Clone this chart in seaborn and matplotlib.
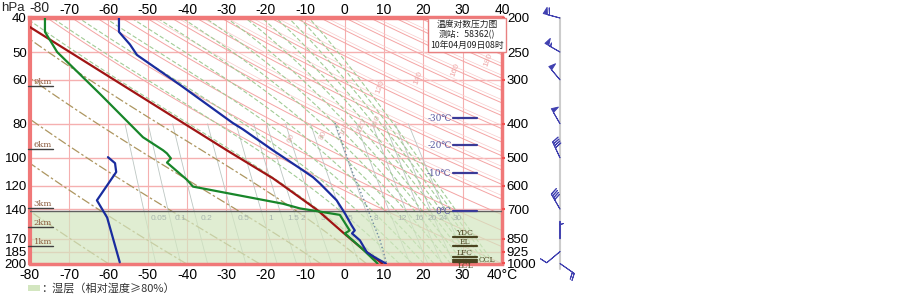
import numpy as np
import matplotlib
matplotlib.use("Agg")
import matplotlib.pyplot as plt
import seaborn as sns
from matplotlib.patches import Rectangle
from matplotlib.ticker import NullLocator

sns.set_theme(style="white")
plt.rcParams['font.family'] = ['Liberation Sans', 'Noto Sans CJK SC', 'DejaVu Sans']
plt.rcParams['axes.unicode_minus'] = False

# sounding (hPa, degC)
temp_p = [1000, 968, 930, 859, 821, 805, 779, 720, 697, 661, 591, 568, 536, 476, 415, 398, 310, 255, 238, 219, 200]
temp_t = [10.5, 8.2, 5.7, 3.9, 1.9, 2.6, 1.8, 0.1, -0.7, -2.0, -6.3, -8.0, -11.3, -18.2, -25.8, -28.4, -41.8, -52.7, -54.5, -57.3, -57.3]
dewp_p = [1000, 906, 821, 805, 727, 697, 676, 604, 578, 516, 502, 486, 476, 437, 330, 250, 219, 200]
dewp_t = [8.4, 4.4, 0.1, 1.3, -1.2, -11.3, -15.6, -38.5, -40.0, -45.1, -44.1, -45.1, -46.1, -51.2, -62.0, -73.0, -76.1, -76.1]
parcel_p = [1000, 906, 816, 706, 591, 572, 476, 212, 200]
parcel_t = [9.6, 4.4, -0.4, -6.8, -16.4, -18.2, -29.9, -80.0, -82.0]
# upper-air leg (40-100 hPa), drawn on the p*5 scale
upper_p = [498, 518, 549, 661, 740, 992]
upper_t = [-60.1, -58.3, -58.0, -62.9, -60.3, -57.1]
# dotted line from the surface
dot_p = [398, 553, 692, 858, 1000]
dot_t = [-2.4, 2.1, 5.7, 9.0, 10.7]

# winds (deg, m/s)
wind_p = [200, 250, 300, 400, 500, 700, 850, 925, 1000]
wind_dir = [285, 300, 320, 330, 335, 330, 360, 230, 125]
wind_spd = [24, 22, 20, 20, 16, 16, 2, 4, 8]

temp_ticks = list(range(-80, 41, 10))
p_levels = [200, 250, 300, 400, 500, 600, 700, 850, 925, 1000]
left_labels = ['40', '50', '60', '80', '100', '120', '140', '170', '185', '200']

km_labels = ['9km', '6km', '3km', '2km', '1km']
km_p = [313, 473, 697, 789, 894]
iso_labels = ['-30℃', '-20℃', '-10℃', '0℃']
iso_p = [386, 461, 553, 710]
lev_labels = ['YDC', 'EL', 'LFC', 'CCL', 'LCL']
lev_p = [838, 894, 957, 975, 990]
wet_top = 712
zero_level = 710

theta_dry = np.arange(40, 231, 10)
theta_olive = [-60, -40, -20, 0, 20]
theta_green = np.arange(30, 171, 10)
mix_ratio = [0.05, 0.1, 0.2, 0.5, 1, 1.5, 2, 3, 5, 8, 12, 16, 20, 24, 30]

pp = np.linspace(1000, 200, 401)


def dry(theta):
    return (theta + 273.15) * (pp / 1000.0) ** 0.286 - 273.15


def esat(t):
    return 6.112 * np.exp(17.67 * t / (t + 243.5))


def rsat(t, p):
    e = esat(t)
    return 0.622 * e / (p - e)


t_grid = np.arange(-70, 50, 0.05)
thse_grid = (t_grid + 273.15) * np.exp(2.5e6 * rsat(t_grid, 1000.0) /
                                       (1004.0 * (t_grid + 273.15))) - 273.15


def moist(thse):
    T = np.interp(thse, thse_grid, t_grid) + 273.15
    out = [T]
    for i in range(1, len(pp)):
        r = rsat(T - 273.15, pp[i - 1])
        dtdp = (287.0 * T + 2.5e6 * r) / (
            pp[i - 1] * (1004.0 + 2.5e6 ** 2 * r * 0.622 / (287.0 * T ** 2)))
        T = T + dtdp * (pp[i] - pp[i - 1])
        out.append(T)
    return np.array(out) - 273.15


def mixing(w, pm):
    e = w * pm / (622.0 + w)
    a = np.log(e / 6.112)
    return 243.5 * a / (17.67 - a)


W, H = 903, 294
x0, x1, ytop, ybot = 29.6, 502, 18, 263.5
fig = plt.figure(figsize=(W / 100, H / 100), dpi=100)
ax = fig.add_axes([x0 / W, 1 - ybot / H, (x1 - x0) / W, (ybot - ytop) / H])
ax.set_yscale('log')
ax.set_xlim(-80, 40)
ax.set_ylim(1000, 200)

# background grid
for t in temp_ticks[1:-1]:
    ax.axvline(t, color='#f5b0b0', lw=0.8, zorder=1)
for p in p_levels[1:-1]:
    ax.axhline(p, color='#f5b0b0', lw=1.0, zorder=1)

for th in theta_dry:
    ax.plot(dry(th), pp, color='#f4a4a4', lw=0.7, zorder=1.2)
    if th >= 80:
        ax.plot(dry(th + 2.5), pp, color='#f9cccc', lw=0.5, zorder=1.2)
for th in theta_olive:
    ax.plot(moist(th), pp, color='#ad9660', lw=0.9, dashes=(7, 2, 2, 2), zorder=1.3)
green_lines = {}
for th in theta_green:
    green_lines[th] = moist(th)
    ax.plot(green_lines[th], pp, color='#a2cc96', lw=0.8, dashes=(4, 2), zorder=1.3)
p_mix = pp[pp >= 400]
for w in mix_ratio:
    ax.plot(mixing(w, p_mix), p_mix, color='#bcc6c2', lw=0.6, zorder=1.2)
    tl = mixing(w, 745.0)
    ax.text(tl + 1.2, 745, f'{w:g}', fontsize=6, color='#a8b6ae', ha='left', va='center', zorder=3)

for th, pl in zip([120, 140, 160, 180], [314, 297, 281, 264]):
    tl = (th + 273.15) * (pl / 1000) ** 0.286 - 273.15
    ax.text(tl, pl, str(th), rotation=70, fontsize=6, color='#f0a8a8', ha='center', va='center')
for th, pl in zip([60, 80, 100, 120, 140], [440, 430, 415, 405, 395]):
    tl = np.interp(pl, pp[::-1], green_lines[th][::-1])
    ax.text(tl + 1, pl, str(th), rotation=65, fontsize=6, color='#e8b4b4', ha='center', va='center')

# wet layer and 0 degC level
ax.axhspan(wet_top, 1000, color='#d3e6c0', alpha=0.7, lw=0, zorder=2)
ax.axhline(zero_level, color='#606060', lw=1, zorder=4)

# sounding curves
sns.lineplot(x=dot_t, y=dot_p, sort=False, estimator=None, ax=ax, color='#6f8aa0',
             lw=1, ls=':', zorder=5)
sns.lineplot(x=parcel_t, y=parcel_p, sort=False, estimator=None, ax=ax, color='#a01414',
             lw=1.6, zorder=6)
sns.lineplot(x=dewp_t, y=dewp_p, sort=False, estimator=None, ax=ax, color='#18862a',
             lw=1.6, zorder=6)
sns.lineplot(x=temp_t, y=temp_p, sort=False, estimator=None, ax=ax, color='#1a2c9e',
             lw=1.6, zorder=7)
sns.lineplot(x=upper_t, y=upper_p, sort=False, estimator=None, ax=ax, color='#1a2c9e',
             lw=1.6, zorder=7)

# height marks
for lab, p in zip(km_labels, km_p):
    ax.plot([-80.4, -74.1], [p, p], color='#404040', lw=1, clip_on=False, zorder=8)
    ax.text(-76.6, p, lab, fontsize=6, family='DejaVu Serif', color='#8a5a3c',
            ha='center', va='bottom', zorder=8)

# isotherm levels at right
for lab, p in zip(iso_labels, iso_p):
    ax.text(27.2, p, lab, fontsize=6.5, color='#5858a0', ha='right', va='center', zorder=8,
            family=['DejaVu Serif', 'Noto Sans CJK SC'])
    ax.plot([27.6, 33.6], [p, p], color='#3a3a98', lw=1.6, zorder=8)

# characteristic levels
for lab, p in zip(lev_labels, lev_p):
    ax.plot([27.6, 33.6], [p, p], color='#4a4420', lw=1.6, zorder=8)
pos = {'YDC': (30.6, 'bottom', 'center'), 'EL': (30.6, 'bottom', 'center'),
       'LFC': (30.6, 'bottom', 'center'), 'CCL': (34.0, 'center', 'left'),
       'LCL': (30.6, 'top', 'center')}
for lab, p in zip(lev_labels, lev_p):
    xx, va, ha = pos[lab]
    ax.text(xx, p, lab, fontsize=5.5, family='DejaVu Serif', color='#4a4420',
            ha=ha, va=va, zorder=8)

# axes frame and ticks
ax.yaxis.set_minor_locator(NullLocator())
ax.set_xticks(temp_ticks, labels=[str(t) for t in temp_ticks[:-1]] + ['40°C'])
ax.set_yticks(p_levels, labels=left_labels)
ax.tick_params(axis='x', length=0, pad=3.5, labelsize=10, colors='black')
ax.tick_params(axis='y', length=0, pad=2, labelsize=9.5, colors='black')
for s in ax.spines.values():
    s.set_color('#f07878')
    s.set_linewidth(2.5)
ax.spines['top'].set_linewidth(3.2)
ax.spines['left'].set_linewidth(3)

sec = ax.secondary_xaxis('top')
sec.set_xticks(temp_ticks[1:], labels=[str(t) for t in temp_ticks[1:]])
sec.tick_params(length=0, pad=1, labelsize=10, colors='black')
sec.spines['top'].set_visible(False)

ax2 = ax.twinx()
ax2.set_yscale('log')
ax2.set_ylim(1000, 200)
ax2.yaxis.set_minor_locator(NullLocator())
ax2.set_yticks(p_levels, labels=[str(p) for p in p_levels])
ax2.tick_params(axis='y', length=2.5, width=1.5, pad=1, labelsize=9.5,
                direction='out', colors='black')
ax2.tick_params(axis='y', color='#f05050')
for s in ax2.spines.values():
    s.set_visible(False)

fig.text(29 / W, 1 - 8 / H, '-80', fontsize=10, ha='left', va='center')
fig.text(1 / W, 1 - 8 / H, 'hPa', fontsize=9.5, ha='left', va='center')

# title box
fig.text(467 / W, 1 - 20 / H, '温度对数压力图\n测站：58362()\n10年04月09日08时',
         fontsize=6.3, ha='center', va='top', multialignment='center', linespacing=1.2,
         family=['Noto Sans CJK SC'], color='#202020', zorder=10,
         bbox=dict(boxstyle='square,pad=0.2', fc='white', ec='#e88080', lw=1))

# legend
fig.patches.append(Rectangle((28 / W, 1 - 291 / H), 12 / W, 6 / H, transform=fig.transFigure,
                             fc='#d3e6c0', ec='none'))
fig.text(41 / W, 1 - 288 / H, '：湿层（相对湿度≥80%）', fontsize=8, ha='left', va='center',
         color='#333333', family=['Noto Sans CJK SC'])

# wind barbs
axw = fig.add_axes([535 / W, 1 - ybot / H, 50 / W, (ybot - ytop) / H])
axw.set_xlim(-1, 1)
axw.set_yscale('log')
axw.set_ylim(1000, 200)
axw.axis('off')
axw.plot([0, 0], [200, 1040], color='#cccccc', lw=1.5, clip_on=False, zorder=1)
rad = np.deg2rad(wind_dir)
u = -np.array(wind_spd) * np.sin(rad)
v = -np.array(wind_spd) * np.cos(rad)
axw.barbs(np.zeros(len(wind_p)), wind_p, u, v, length=5.0, color='#4040b0', linewidth=0.7,
          barb_increments=dict(half=2, full=4, flag=20), sizes=dict(emptybarb=0),
          clip_on=False, zorder=3)

fig.savefig('out.png', dpi=100, facecolor='white')
